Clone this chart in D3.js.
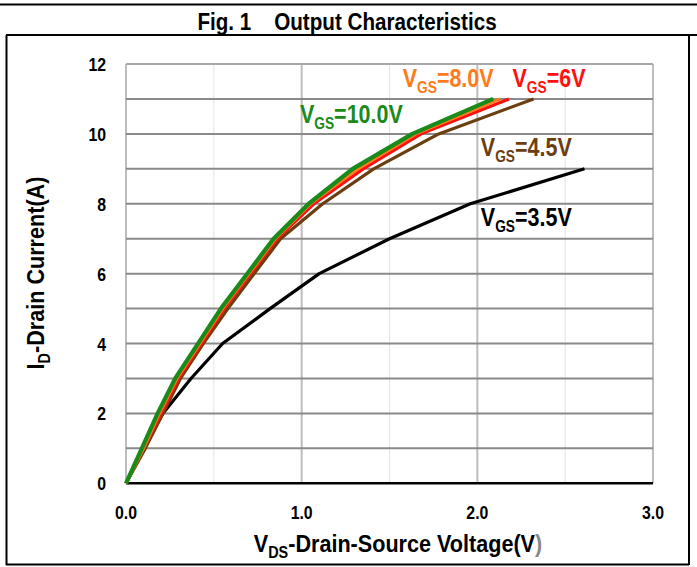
<!DOCTYPE html>
<html>
<head>
<meta charset="utf-8">
<script src="https://cdn.jsdelivr.net/npm/d3@7"></script>
<style>
  html, body { margin: 0; padding: 0; background: #fff; }
  svg { display: block; }
  text { font-family: 'Liberation Sans Narrow', 'Arial Narrow', 'Liberation Sans', Arial, sans-serif; font-weight: bold; white-space: pre; }
</style>
</head>
<body>
<svg id="chart" width="697" height="567"></svg>
<script>
// Output characteristics: drain current vs drain-source voltage for several gate voltages
const title = "Fig. 1    Output Characteristics";
const xTicks = [0, 1, 2, 3];
const xTickLabels = ["0.0", "1.0", "2.0", "3.0"];
const yTicks = [0, 2, 4, 6, 8, 10, 12];

const vgs35 = [[0,0],[0.10,1],[0.21,2],[0.37,3],[0.55,4],[0.82,5],[1.10,6],[1.50,7],[1.96,8],[2.61,9]];
const vgs45 = [[0,0],[0.11,1],[0.21,2],[0.31,3],[0.44,4],[0.58,5],[0.73,6],[0.88,7],[1.12,8],[1.41,9],[1.78,10],[2.32,11]];
const vgs6  = [[0,0],[0.10,1],[0.20,2],[0.30,3],[0.43,4],[0.56,5],[0.71,6],[0.86,7],[1.07,8],[1.35,9],[1.68,10],[2.18,11]];
const vgs8  = [[0,0],[0.10,1],[0.19,2],[0.29,3],[0.42,4],[0.55,5],[0.70,6],[0.85,7],[1.05,8],[1.32,9],[1.65,10],[2.13,11]];
const vgs10 = [[0,0],[0.09,1],[0.18,2],[0.28,3],[0.41,4],[0.54,5],[0.69,6],[0.84,7],[1.04,8],[1.29,9],[1.63,10],[2.09,11]];

const seriesNames  = ["VGS=3.5V", "VGS=4.5V", "VGS=6V", "VGS=8.0V", "VGS=10.0V"];
const seriesValues = [vgs35, vgs45, vgs6, vgs8, vgs10];
const seriesColors = ["#000000", "#6b3d0f", "#ff1010", "#ff7a1a", "#1a8a1a"];
const seriesWidths = [3.2, 3.2, 3.2, 3.2, 4.2];
// label text parts: [main, subscript, rest]; anchor point (start, baseline) in data units
const labelParts = [["V","GS","=3.5V"],["V","GS","=4.5V"],["V","GS","=6V"],["V","GS","=8.0V"],["V","GS","=10.0V"]];
const labelAt = [[2.02, 7.36], [2.02, 9.37], [2.20, 11.33], [1.575, 11.33], [0.99, 10.3]];

const svg = d3.select("#chart");
const W = 697;

const x = d3.scaleLinear().domain([0, 3]).range([126, 653]);
const y = d3.scaleLinear().domain([0, 12]).range([483.3, 64]);

// condensed bold text: group translated to the anchor, squeezed horizontally
function label(px, py, size, sx, anchor, rotate) {
  const gg = svg.append("g").attr("transform",
    `translate(${px},${py})` + (rotate ? ` rotate(${rotate})` : "") + ` scale(${sx},1)`);
  return gg.append("text").attr("font-size", size).attr("text-anchor", anchor || "start");
}
function withSub(t, main, sub, rest, subSize, color) {
  t.append("tspan").text(main);
  t.append("tspan").attr("font-size", subSize).attr("dy", 6).text(sub);
  t.append("tspan").attr("dy", -6).text(rest);
  if (color) t.attr("fill", color);
  return t;
}

// frame
svg.append("line").attr("x1", 0).attr("x2", W).attr("y1", 4.5).attr("y2", 4.5).attr("stroke", "#000").attr("stroke-width", 2);
svg.append("line").attr("x1", 6).attr("x2", W).attr("y1", 35).attr("y2", 35).attr("stroke", "#000").attr("stroke-width", 2);
svg.append("line").attr("x1", 6.5).attr("x2", 6.5).attr("y1", 35).attr("y2", 565).attr("stroke", "#000").attr("stroke-width", 2);
svg.append("line").attr("x1", 689).attr("x2", 689).attr("y1", 35).attr("y2", 565).attr("stroke", "#000").attr("stroke-width", 2);
svg.append("line").attr("x1", 6).attr("x2", 689).attr("y1", 564.5).attr("y2", 564.5).attr("stroke", "#000").attr("stroke-width", 2);

label(347, 30, 24, 0.86, "middle").text(title);

// grid
const g = svg.append("g");
g.selectAll("line.vminor").data([0.5, 1.5, 2.5]).join("line")
  .attr("x1", d => x(d)).attr("x2", d => x(d)).attr("y1", y(12)).attr("y2", y(0))
  .attr("stroke", "#e4e4e4").attr("stroke-width", 1);
g.selectAll("line.vmajor").data(xTicks).join("line")
  .attr("x1", d => x(d)).attr("x2", d => x(d)).attr("y1", y(12)).attr("y2", y(0))
  .attr("stroke", "#bdbdbd").attr("stroke-width", 2);
g.selectAll("line.h").data(d3.range(1, 13)).join("line")
  .attr("x1", x(0)).attr("x2", x(3)).attr("y1", d => y(d)).attr("y2", d => y(d))
  .attr("stroke", d => d === 12 ? "#a8a8a8" : "#8a8a8a").attr("stroke-width", 2);

// tick labels placed through the scales
xTicks.forEach((d, i) => label(x(d), 519, 18, 0.88, "middle").text(xTickLabels[i]));
yTicks.forEach(d => label(106, y(d) + 7, 18, 0.88, "end").text(d3.format("d")(d)));

// baseline
svg.append("line").attr("x1", x(0)).attr("x2", x(3)).attr("y1", y(0)).attr("y2", y(0))
  .attr("stroke", "#000").attr("stroke-width", 2.5);

// curves
const line = d3.line().x(d => x(d[0])).y(d => y(d[1]));
seriesValues.forEach((vals, i) => {
  svg.append("path").datum(vals).attr("d", line)
    .attr("fill", "none").attr("stroke", seriesColors[i]).attr("stroke-width", seriesWidths[i])
    .attr("stroke-linejoin", "round").attr("stroke-linecap", "butt");
});

// series labels
labelParts.forEach((p, i) => {
  const t = label(x(labelAt[i][0]), y(labelAt[i][1]), 25, 0.86, "start");
  withSub(t, p[0], p[1], p[2], 16, seriesColors[i]);
});

// axis titles
const xt = label(398, 552, 24, 0.9, "middle");
withSub(xt, "V", "DS", "-Drain-Source Voltage(V", 16);
xt.append("tspan").attr("fill", "#888").text(")");

const yt = label(44, 273, 24, 0.9, "middle", -90);
withSub(yt, "I", "D", "-Drain Current(A)", 16);
</script>
</body>
</html>
